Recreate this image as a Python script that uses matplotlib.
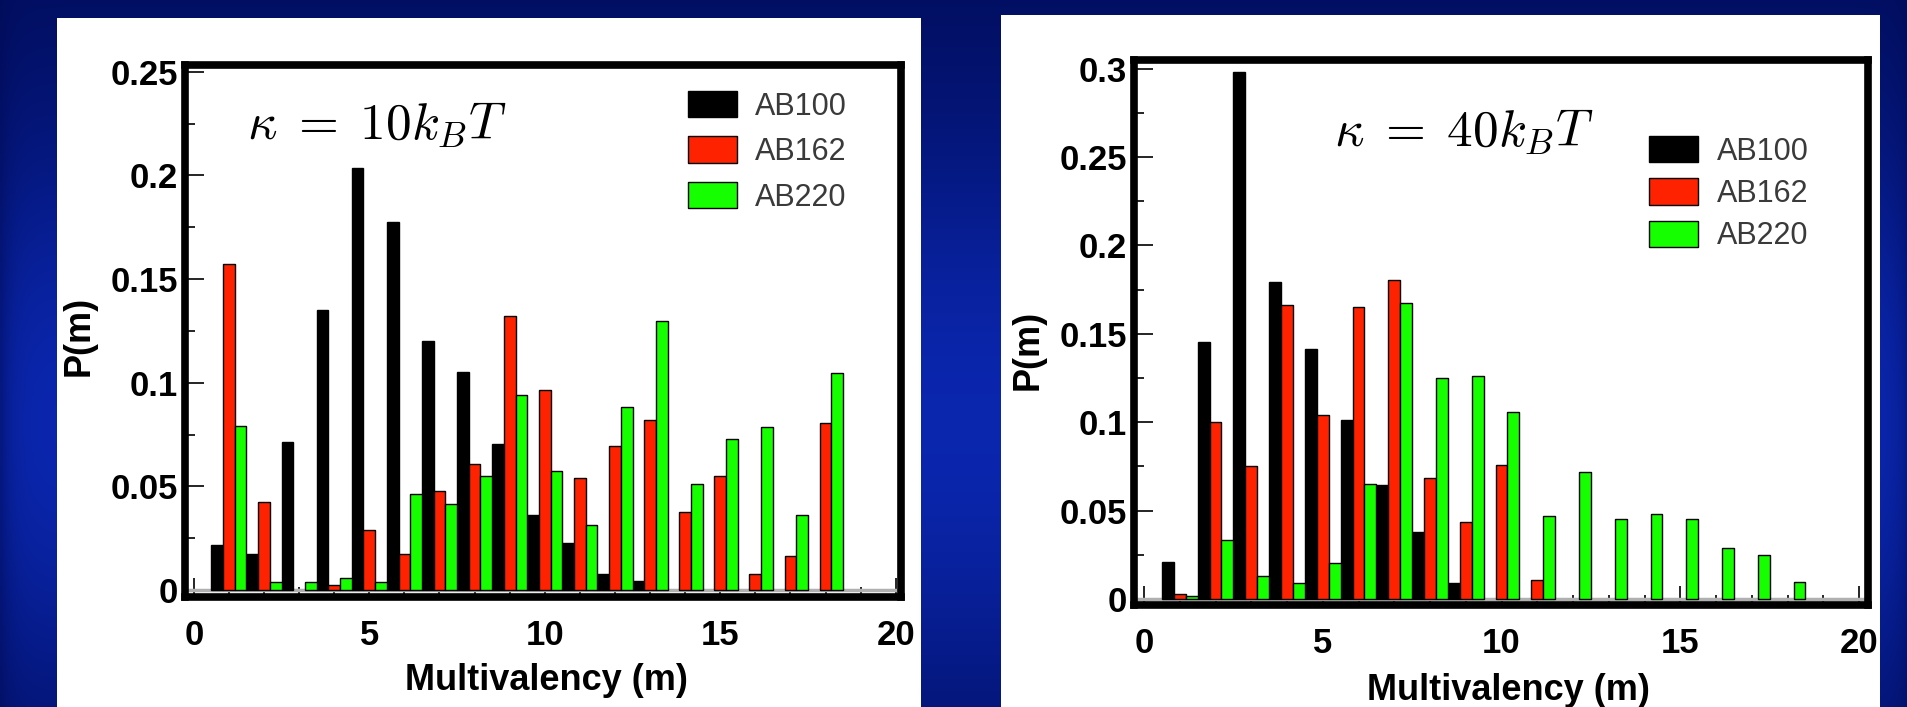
"""Multivalency distributions P(m) for kappa = 10 and 40 kBT."""

import matplotlib
matplotlib.use("Agg")
import matplotlib.pyplot as plt
from matplotlib.patches import Rectangle
from matplotlib.ticker import MultipleLocator
import numpy as np

plt.rcParams.update({
    "font.family": "Liberation Sans",
    "mathtext.fontset": "cm",
})

# ---- data ----
mult = np.arange(1, 19)
series = ["AB100", "AB162", "AB220"]

k10_ab100 = [0.0217, 0.0172, 0.0715, 0.135, 0.2037, 0.1774, 0.1203, 0.105, 0.0707,
             0.0363, 0.0226, 0.0079, 0.0042, 0, 0, 0, 0, 0]
k10_ab162 = [0.1574, 0.0424, 0.0, 0.0025, 0.0288, 0.0172, 0.0477, 0.0607, 0.132,
             0.0966, 0.054, 0.0694, 0.0822, 0.0379, 0.055, 0.0079, 0.0163, 0.0805]
k10_ab220 = [0.0794, 0.004, 0.004, 0.006, 0.004, 0.0463, 0.0414, 0.055, 0.094,
             0.0577, 0.0316, 0.0885, 0.130, 0.0512, 0.0729, 0.0785, 0.0361, 0.1048]

k40_ab100 = [0.0209, 0.1455, 0.2978, 0.1795, 0.1416, 0.1013, 0.0643, 0.0381, 0.009,
             0, 0, 0, 0, 0, 0, 0, 0, 0]
k40_ab162 = [0.0029, 0.0999, 0.075, 0.1663, 0.1041, 0.1654, 0.1803, 0.0685, 0.0436,
             0.076, 0.0105, 0, 0, 0, 0, 0, 0, 0]
k40_ab220 = [0.0015, 0.0335, 0.0132, 0.0092, 0.0205, 0.0651, 0.1675, 0.1252, 0.1261,
             0.1055, 0.0467, 0.0718, 0.0454, 0.048, 0.0454, 0.029, 0.0249, 0.0096]

k10_yticks = [0, 0.05, 0.1, 0.15, 0.2, 0.25]
k10_ylabels = ["0", "0.05", "0.1", "0.15", "0.2", "0.25"]
k40_yticks = [0, 0.05, 0.1, 0.15, 0.2, 0.25, 0.3]
k40_ylabels = ["0", "0.05", "0.1", "0.15", "0.2", "0.25", "0.3"]
xticks = [0, 5, 10, 15, 20]

COLORS = ["#000000", "#ff2200", "#16ff00"]
W = 1 / 3


def draw_panel(ax, values, title, yticks, ylabels, xlim, ylim, title_xy, leg_xy, leg_space):
    for i, (vals, name) in enumerate(zip(values, series)):
        v = np.asarray(vals)
        keep = v > 0
        ax.bar(mult[keep] + (i - 1) * W, v[keep], width=W, color=COLORS[i],
               edgecolor="black", linewidth=1.0, label=name, zorder=3)
    ax.axhline(0, color="#b0b0b0", linewidth=2.5, zorder=2)
    ax.set_xlim(*xlim)
    ax.set_ylim(*ylim)
    ax.set_xticks(xticks)
    ax.set_xticklabels([str(t) for t in xticks])
    ax.xaxis.set_minor_locator(MultipleLocator(1))
    ax.set_yticks(yticks)
    ax.set_yticklabels(ylabels)
    ax.yaxis.set_minor_locator(MultipleLocator(0.025))
    ax.tick_params(which="both", direction="in", top=False, right=False, width=1.2)
    ax.tick_params(which="major", length=14)
    ax.tick_params(which="minor", length=7)
    ax.tick_params(axis="x", pad=16, labelsize=25)
    ax.tick_params(axis="y", pad=5, labelsize=25)
    for lab in ax.get_xticklabels() + ax.get_yticklabels():
        lab.set_fontweight("bold")
    for s in ax.spines.values():
        s.set_linewidth(5.5)
    ax.set_xlabel("Multivalency (m)", fontsize=26, fontweight="bold")
    ax.set_ylabel("P(m)", fontsize=26, fontweight="bold")
    ax.text(title_xy[0], title_xy[1], title, transform=ax.transAxes,
            fontsize=37, ha="left", va="center")
    leg = ax.legend(loc="upper left", bbox_to_anchor=leg_xy, frameon=False,
                    fontsize=22, handlelength=1.6, handleheight=0.95,
                    handletextpad=0.6, labelspacing=leg_space,
                    borderpad=0, borderaxespad=0)
    for t in leg.get_texts():
        t.set_color("#3a3a3a")


def main():
    fig = plt.figure(figsize=(19.08, 7.07), dpi=100)

    # blue slide background
    yy = np.linspace(0, 1, 300)[:, None]
    xx = np.linspace(0, 1, 600)[None, :]
    v = np.exp(-((yy - 0.6) / 0.45) ** 2) * (1 - 0.5 * np.exp(-xx * 1908 / 12)) \
        * (1 - 0.4 * np.exp(-(1 - xx) * 1908 / 12))
    top = np.array([0.0, 0.04, 0.33])
    mid = np.array([0.04, 0.15, 0.68])
    img = top + (mid - top) * v[..., None]
    bg = fig.add_axes([0, 0, 1, 1], zorder=-10)
    bg.imshow(img, aspect="auto", extent=[0, 1, 0, 1])
    bg.axis("off")

    # white panels
    fig.add_artist(Rectangle((57 / 1908, 0), 864 / 1908, 689 / 707, transform=fig.transFigure,
                             facecolor="white", edgecolor="none", zorder=-5))
    fig.add_artist(Rectangle((1001.5 / 1908, 0), 878.5 / 1908, 692 / 707, transform=fig.transFigure,
                             facecolor="white", edgecolor="none", zorder=-5))

    ax1 = fig.add_axes([185 / 1908, 1 - 597 / 707, 716 / 1908, 532.5 / 707])
    ax2 = fig.add_axes([1134 / 1908, 1 - 605 / 707, 734 / 1908, 544.7 / 707])

    draw_panel(ax1, [k10_ab100, k10_ab162, k10_ab220], r"$\kappa\;=\;10k_BT$",
               k10_yticks, k10_ylabels, (-0.25, 20.15), (-0.0033, 0.2535),
               (0.086, 0.885), (0.702, 0.95), 0.48)
    draw_panel(ax2, [k40_ab100, k40_ab162, k40_ab220], r"$\kappa\;=\;40k_BT$",
               k40_yticks, k40_ylabels, (-0.28, 20.25), (-0.0034, 0.3047),
               (0.272, 0.868), (0.702, 0.861), 0.38)

    ax1.yaxis.set_label_coords(-0.123, 0.49)
    ax2.yaxis.set_label_coords(-0.121, 0.468)
    ax1.xaxis.set_label_coords(0.505, -0.124)
    ax2.xaxis.set_label_coords(0.51, -0.125)

    fig.savefig("out.png", dpi=100)
    plt.close(fig)


if __name__ == "__main__":
    main()
